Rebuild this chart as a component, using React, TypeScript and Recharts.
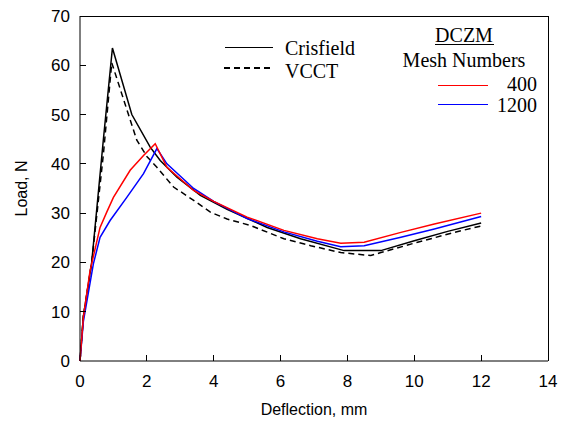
import { LineChart, Line, XAxis, YAxis } from 'recharts'

type Pt = { x: number; y: number }

const X_TICKS = [0, 2, 4, 6, 8, 10, 12, 14]
const Y_TICKS = [0, 10, 20, 30, 40, 50, 60, 70]

// deflection (mm) / load (N) pairs
const crisfieldX = [0, 0.1, 0.35, 0.7, 0.97, 1.55, 2.1, 2.4, 2.9, 3.6, 4.4, 5.6, 6.6, 7.9, 9.0, 10, 11, 12]
const crisfieldY = [0, 9, 20, 45, 63.5, 50, 43.4, 40.7, 37.3, 33.6, 30.8, 27.1, 24.8, 22.4, 22.4, 24.4, 26.3, 28]

const vcctX = [0, 0.1, 0.35, 0.7, 0.95, 1.45, 1.7, 2.0, 2.3, 2.8, 3.4, 3.9, 4.4, 5.1, 6.1, 6.9, 7.8, 8.7, 9.0, 10.1, 11.2, 12]
const vcctY = [0, 9, 20, 42, 60.5, 50, 44.8, 41.5, 39.3, 35.3, 32.6, 30.2, 28.8, 27.5, 24.8, 23.4, 22, 21.4, 22, 24.1, 26.1, 27.4]

const mesh400X = [0, 0.1, 0.3, 0.6, 0.8, 1.0, 1.5, 1.9, 2.25, 2.6, 3.4, 4.0, 5.0, 6.1, 7.1, 7.8, 8.5, 9.6, 10.6, 12]
const mesh400Y = [0, 8.8, 18.3, 27.1, 30.2, 33.2, 38.7, 41.7, 44.1, 39.3, 34.6, 32.4, 29.2, 26.5, 24.8, 23.9, 24.1, 26.1, 27.8, 30]

const mesh1200X = [0, 0.1, 0.4, 0.6, 0.9, 1.4, 1.9, 2.3, 2.6, 3.4, 4.0, 5.0, 6.1, 7.1, 7.8, 8.5, 9.6, 10.6, 12]
const mesh1200Y = [0, 8, 19.7, 25.1, 28.5, 33.2, 38, 43.1, 40, 35, 32.4, 28.9, 26.2, 24.3, 23.2, 23.4, 25.1, 26.8, 29.3]

const zip = (xs: number[], ys: number[]): Pt[] => xs.map((x, i) => ({ x, y: ys[i] }))

const crisfield = zip(crisfieldX, crisfieldY)
const vcct = zip(vcctX, vcctY)
const mesh400 = zip(mesh400X, mesh400Y)
const mesh1200 = zip(mesh1200X, mesh1200Y)

const SANS = 'Arial, "Liberation Sans", sans-serif'
const SERIF = '"Times New Roman", "Liberation Serif", serif'

// chart geometry
const W = 562
const H = 422
const MARGIN = { top: 16, right: 14, left: 0, bottom: 0 }
const Y_AXIS_W = 80
const X_AXIS_H = 61
const X_MAX = 14
const Y_MAX = 70
const plotL = MARGIN.left + Y_AXIS_W
const plotR = W - MARGIN.right
const plotT = MARGIN.top
const plotB = H - MARGIN.bottom - X_AXIS_H
const px = (v: number) => plotL + (v / X_MAX) * (plotR - plotL)
const py = (v: number) => plotB - (v / Y_MAX) * (plotB - plotT)

const XTick = (props: any) => {
  const { x, y, payload } = props
  return (
    <text x={x} y={y + 26} textAnchor="middle" fontFamily={SANS} fontSize={17} fill="#000">
      {payload.value}
    </text>
  )
}

const YTick = (props: any) => {
  const { x, y, payload } = props
  return (
    <text x={x - 10} y={y + 6} textAnchor="end" fontFamily={SANS} fontSize={17} fill="#000">
      {payload.value}
    </text>
  )
}

const XLabel = (props: any) => {
  const { viewBox } = props
  const cx = viewBox.x + viewBox.width / 2
  return (
    <text x={cx} y={viewBox.y + 54} textAnchor="middle" fontFamily={SANS} fontSize={16} fill="#000">
      Deflection, mm
    </text>
  )
}

const YLabel = (props: any) => {
  const { viewBox } = props
  const cx = viewBox.x + 21
  const cy = viewBox.y + viewBox.height / 2
  return (
    <text x={cx} y={cy} textAnchor="middle" dominantBaseline="central" fontFamily={SANS} fontSize={16} fill="#000" transform={`rotate(-90 ${cx} ${cy})`}>
      Load, N
    </text>
  )
}

const txt = (extra: any) => ({
  position: 'absolute' as const,
  fontFamily: SERIF,
  fontSize: 20,
  lineHeight: '20px',
  color: '#000',
  whiteSpace: 'nowrap' as const,
  ...extra,
})

const seg = (extra: any) => ({ position: 'absolute' as const, height: 0, ...extra })

export default function App() {
  return (
    <div style={{ position: 'absolute', left: 0, top: 0 }}>
      <LineChart width={W} height={H} data={crisfield} margin={MARGIN}>
        <XAxis
          type="number"
          dataKey="x"
          domain={[0, X_MAX]}
          ticks={X_TICKS}
          tickSize={0}
          tickMargin={0}
          tick={<XTick />}
          tickLine={false}
          height={X_AXIS_H}
          stroke="#000"
          label={<XLabel />}
        />
        <YAxis
          type="number"
          dataKey="y"
          domain={[0, Y_MAX]}
          ticks={Y_TICKS}
          tickSize={0}
          tickMargin={0}
          tick={<YTick />}
          tickLine={false}
          width={Y_AXIS_W}
          stroke="#000"
          label={<YLabel />}
        />
        <Line dataKey="y" type="linear" stroke="#000" strokeWidth={1.5} dot={false} isAnimationActive={false} />
        <Line data={vcct} dataKey="y" type="linear" stroke="#000" strokeWidth={1.5} strokeDasharray="6 4" dot={false} isAnimationActive={false} />
        <Line data={mesh1200} dataKey="y" type="linear" stroke="#0000ff" strokeWidth={1.5} dot={false} isAnimationActive={false} />
        <Line data={mesh400} dataKey="y" type="linear" stroke="#ff0000" strokeWidth={1.5} dot={false} isAnimationActive={false} />
      </LineChart>

      {/* plot frame (top and right sides) and inward tick marks */}
      <div
        style={{
          position: 'absolute',
          left: plotL,
          top: plotT,
          width: plotR - plotL + 0.5,
          height: plotB - plotT,
          borderTop: '1px solid #000',
          borderRight: '1px solid #000',
          boxSizing: 'border-box',
        }}
      />
      {X_TICKS.slice(1, -1).map((v) => (
        <div key={`xt${v}`} style={{ position: 'absolute', left: px(v) - 0.5, top: plotB - 6, width: 1, height: 6, background: '#000' }} />
      ))}
      {Y_TICKS.slice(1, -1).map((v) => (
        <div key={`yt${v}`} style={{ position: 'absolute', left: plotL, top: py(v) - 0.5, width: 6, height: 1, background: '#000' }} />
      ))}

      {/* legend */}
      <div style={seg({ left: 225, top: 47, width: 48, borderTop: '1.5px solid #000' })} />
      <div style={{ position: 'absolute', left: 224, top: 67, width: 47, height: 1.5, background: 'repeating-linear-gradient(to right, #000 0 6px, transparent 6px 10px)' }} />
      <div style={txt({ left: 285, top: 38 })}>Crisfield</div>
      <div style={txt({ left: 285, top: 61 })}>VCCT</div>
      <div style={txt({ left: 364, top: 25, width: 200, textAlign: 'center' })}>DCZM</div>
      <div style={seg({ left: 435, top: 44, width: 59, borderTop: '1px solid #000' })} />
      <div style={txt({ left: 364, top: 50, width: 200, textAlign: 'center' })}>Mesh Numbers</div>
      <div style={seg({ left: 438, top: 85, width: 50, borderTop: '1.5px solid #ff0000' })} />
      <div style={seg({ left: 438, top: 104, width: 50, borderTop: '1.5px solid #0000ff' })} />
      <div style={txt({ left: 437, top: 74, width: 100, textAlign: 'right' })}>400</div>
      <div style={txt({ left: 437, top: 95, width: 100, textAlign: 'right' })}>1200</div>
    </div>
  )
}
